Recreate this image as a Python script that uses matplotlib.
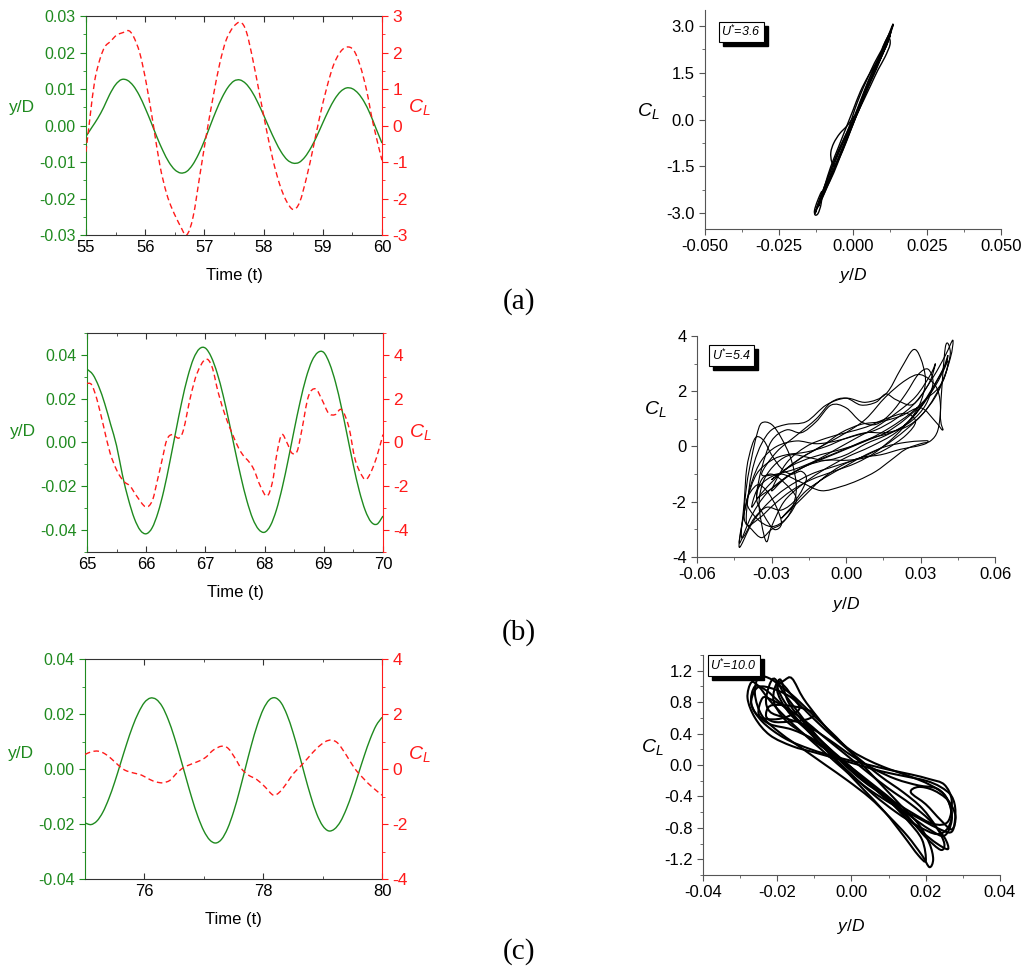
import numpy as np
import matplotlib
matplotlib.use('Agg')
import matplotlib.pyplot as plt
from matplotlib.ticker import MultipleLocator, FormatStrFormatter
from matplotlib.path import Path
from matplotlib.patches import PathPatch, Rectangle
from matplotlib.transforms import IdentityTransform

plt.rcParams['font.family'] = ['Liberation Sans', 'DejaVu Sans']
plt.rcParams['mathtext.fontset'] = 'custom'
plt.rcParams['mathtext.rm'] = 'Liberation Sans'
plt.rcParams['mathtext.it'] = 'Liberation Sans:italic'
plt.rcParams['axes.unicode_minus'] = False

GREEN = '#1f8a1f'
RED = '#ff1a1a'
GREY = '#555555'

# ---------------- time histories ----------------
t_a = np.linspace(55, 60, 51)
yd_a = [-0.0030, -0.0005, 0.0020, 0.0050, 0.0085, 0.0112, 0.0126, 0.0124, 0.0109, 0.0083,
        0.0048, 0.0009, -0.0032, -0.0069, -0.0100, -0.0121, -0.0130, -0.0126, -0.0108, -0.0079,
        -0.0042, 0.0000, 0.0041, 0.0077, 0.0105, 0.0122, 0.0125, 0.0115, 0.0094, 0.0064,
        0.0029, -0.0008, -0.0043, -0.0073, -0.0094, -0.0103, -0.0101, -0.0086, -0.0061, -0.0029,
        0.0007, 0.0042, 0.0072, 0.0093, 0.0103, 0.0101, 0.0088, 0.0065, 0.0032, -0.0008, -0.0048]
t_cl_a = [55.0, 55.07, 55.15, 55.24, 55.32, 55.41, 55.52, 55.63, 55.72, 55.8, 55.91, 56.02, 56.14,
          56.25, 56.36, 56.46, 56.6, 56.7, 56.81, 56.93, 57.04, 57.15, 57.26, 57.37, 57.49, 57.61,
          57.71, 57.82, 57.94, 58.05, 58.16, 58.27, 58.38, 58.5, 58.61, 58.73, 58.84, 58.95, 59.07,
          59.18, 59.29, 59.4, 59.52, 59.63, 59.74, 59.85, 60.0]
cl_a = [-0.72, 0.25, 1.25, 1.84, 2.16, 2.3, 2.48, 2.55, 2.6, 2.45, 1.98, 1.15, 0.0,
        -1.1, -1.85, -2.3, -2.77, -3.0, -2.5, -1.3, -0.2, 0.8, 1.7, 2.35, 2.7, 2.83,
        2.57, 1.8, 0.8, -0.12, -0.95, -1.6, -2.05, -2.3, -2.1, -1.4, -0.6, 0.25, 1.05,
        1.65, 2.0, 2.15, 2.07, 1.65, 0.97, 0.06, -0.95]

t_b = np.linspace(65, 70, 51)
yd_b = [0.0335, 0.0310, 0.0255, 0.0177, 0.0082, -0.0015, -0.0150, -0.0260, -0.0347, -0.0401,
        -0.0417, -0.0390, -0.0320, -0.0217, -0.0088, 0.0050, 0.0184, 0.0298, 0.0383, 0.0428,
        0.0431, 0.0390, 0.0316, 0.0215, 0.0094, -0.0034, -0.0157, -0.0265, -0.0348, -0.0397,
        -0.0410, -0.0379, -0.0308, -0.0204, -0.0078, 0.0057, 0.0185, 0.0294, 0.0372, 0.0411,
        0.0411, 0.0359, 0.0273, 0.0158, 0.0027, -0.0104, -0.0221, -0.0310, -0.0363, -0.0373, -0.0336]
t_cl_b = [65.0, 65.08, 65.17, 65.28, 65.39, 65.51, 65.62, 65.73, 65.84, 65.99, 66.1, 66.18, 66.27,
          66.35, 66.44, 66.55, 66.63, 66.75, 66.86, 67.0, 67.11, 67.22, 67.34, 67.45, 67.56, 67.65,
          67.73, 67.82, 67.93, 68.04, 68.13, 68.21, 68.29, 68.38, 68.46, 68.55, 68.63, 68.74, 68.86,
          68.97, 69.08, 69.19, 69.3, 69.42, 69.53, 69.65, 69.73, 69.84, 69.93, 70.0]
cl_b = [2.7, 2.63, 1.95, 0.74, -0.48, -1.31, -1.77, -2.0, -2.45, -2.94, -2.68, -1.84, -0.78,
        0.13, 0.36, 0.2, 0.58, 2.1, 3.16, 3.8, 3.47, 2.25, 1.19, 0.43, -0.25, -0.63,
        -0.86, -1.24, -2.0, -2.45, -1.84, -0.48, 0.36, -0.02, -0.48, -0.4, 0.58, 2.1, 2.45,
        1.95, 1.34, 1.27, 1.5, 0.74, -0.78, -1.54, -1.66, -1.08, -0.33, 0.36]

t_c = np.linspace(75, 80, 51)
yd_c = [-0.0196, -0.0202, -0.0189, -0.0157, -0.0108, -0.0047, 0.0022, 0.0091, 0.0154, 0.0205,
        0.0242, 0.0258, 0.0253, 0.0227, 0.0180, 0.0118, 0.0045, -0.0032, -0.0107, -0.0173,
        -0.0225, -0.0258, -0.0269, -0.0255, -0.0216, -0.0156, -0.0080, 0.0004, 0.0087, 0.0160,
        0.0217, 0.0251, 0.0259, 0.0241, 0.0197, 0.0134, 0.0058, -0.0023, -0.0099, -0.0163,
        -0.0206, -0.0225, -0.0218, -0.0191, -0.0145, -0.0086, -0.0019, 0.0048, 0.0109, 0.0158, 0.0188]
t_cl_c = [75.0, 75.11, 75.22, 75.33, 75.44, 75.56, 75.67, 75.81, 75.95, 76.09, 76.2, 76.31, 76.43,
          76.54, 76.65, 76.79, 76.93, 77.04, 77.16, 77.3, 77.41, 77.53, 77.63, 77.75, 77.89, 78.03,
          78.17, 78.28, 78.39, 78.51, 78.62, 78.76, 78.9, 79.04, 79.15, 79.26, 79.4, 79.54, 79.69,
          79.83, 80.0]
cl_c = [0.53, 0.63, 0.65, 0.56, 0.38, 0.14, -0.04, -0.14, -0.22, -0.38, -0.47, -0.5, -0.41,
        -0.16, 0.04, 0.18, 0.3, 0.44, 0.69, 0.83, 0.75, 0.38, 0.02, -0.22, -0.38, -0.65,
        -0.95, -0.83, -0.53, -0.16, 0.08, 0.42, 0.75, 0.99, 1.05, 0.93, 0.5, 0.02, -0.35,
        -0.65, -0.95]

# ---------------- phase-plane loops (y/D, C_L) ----------------
ph_a_y = [
    [-0.0128, -0.0115, -0.0095, -0.0075, -0.0050, -0.0025, 0.0000, 0.0025, 0.0050, 0.0075, 0.0100, 0.0120,
     0.0135, 0.0130, 0.0115, 0.0095, 0.0070, 0.0045, 0.0020, -0.0005, -0.0030, -0.0055, -0.0080, -0.0105,
     -0.0120, -0.0128],
    [-0.0125, -0.0110, -0.0090, -0.0070, -0.0048, -0.0030, -0.0012, 0.0005, 0.0025, 0.0048, 0.0072, 0.0095,
     0.0115, 0.0128, 0.0120, 0.0100, 0.0078, 0.0055, 0.0032, 0.0010, -0.0010, -0.0035, -0.0060, -0.0085,
     -0.0108, -0.0125],
    [-0.0110, -0.0090, -0.0065, -0.0040, -0.0015, 0.0010, 0.0035, 0.0060, 0.0085, 0.0108, 0.0125, 0.0120,
     0.0100, 0.0078, 0.0052, 0.0025, 0.0000, -0.0025, -0.0050, -0.0075, -0.0095, -0.0110],
    [-0.0118, -0.0098, -0.0078, -0.0058, -0.0036, -0.0012, 0.0012, 0.0036, 0.0062, 0.0088, 0.0110, 0.0126,
     0.0118, 0.0096, 0.0074, 0.0050, 0.0026, 0.0002, -0.0022, -0.0046, -0.0070, -0.0094, -0.0118],
    [0.0005, -0.0020, -0.0045, -0.0065, -0.0075, -0.0072, -0.0060, -0.0040, -0.0015, 0.0005],
    [-0.0105, -0.0120, -0.0130, -0.0128, -0.0118, -0.0108, -0.0105],
    [0.0100, 0.0120, 0.0133, 0.0136, 0.0130, 0.0122, 0.0110, 0.0100],
]
ph_a_cl = [
    [-3.0, -2.6, -2.1, -1.6, -1.0, -0.5, 0.0, 0.6, 1.2, 1.7, 2.2, 2.7, 3.05, 2.85, 2.45, 2.0, 1.5, 0.9, 0.3,
     -0.2, -0.8, -1.35, -1.9, -2.4, -2.8, -3.0],
    [-2.9, -2.5, -2.0, -1.5, -1.0, -0.6, -0.2, 0.3, 0.8, 1.3, 1.8, 2.2, 2.6, 2.8, 2.6, 2.2, 1.8, 1.3, 0.7,
     0.1, -0.4, -1.0, -1.5, -2.0, -2.5, -2.9],
    [-2.6, -2.2, -1.7, -1.1, -0.5, 0.1, 0.6, 1.1, 1.6, 2.0, 2.4, 2.6, 2.2, 1.8, 1.4, 0.9, 0.3, -0.3, -0.9,
     -1.5, -2.1, -2.6],
    [-2.8, -2.3, -1.8, -1.3, -0.8, -0.3, 0.25, 0.8, 1.35, 1.85, 2.3, 2.7, 2.5, 2.0, 1.5, 1.0, 0.45, -0.1,
     -0.65, -1.2, -1.75, -2.3, -2.8],
    [0.1, -0.2, -0.45, -0.75, -1.05, -1.35, -1.45, -1.0, -0.4, 0.1],
    [-2.3, -2.6, -2.9, -3.05, -3.0, -2.7, -2.3],
    [2.3, 2.7, 2.95, 3.05, 2.9, 2.6, 2.3, 2.3],
]

ph_b_y = [
    [-0.043, -0.041, -0.038, -0.034, -0.028, -0.020, -0.012, -0.004, 0.004, 0.012, 0.020, 0.028, 0.035, 0.040,
     0.043, 0.042, 0.038, 0.032, 0.024, 0.015, 0.006, -0.004, -0.014, -0.024, -0.032, -0.038, -0.043],
    [-0.040, -0.039, -0.037, -0.034, -0.030, -0.024, -0.016, -0.008, 0.000, 0.008, 0.016, 0.022, 0.027, 0.030,
     0.032, 0.030, 0.026, 0.020, 0.012, 0.004, -0.005, -0.014, -0.022, -0.029, -0.035, -0.040],
    [-0.032, -0.034, -0.035, -0.033, -0.028, -0.022, -0.015, -0.008, 0.000, 0.008, 0.016, 0.024, 0.030, 0.036,
     0.040, 0.041, 0.039, 0.034, 0.028, 0.020, 0.010, 0.000, -0.010, -0.018, -0.025, -0.030, -0.032],
    [-0.038, -0.036, -0.032, -0.026, -0.018, -0.010, -0.002, 0.005, 0.012, 0.018, 0.024, 0.030, 0.034, 0.037,
     0.038, 0.036, 0.030, 0.024, 0.016, 0.008, 0.000, -0.008, -0.016, -0.024, -0.030, -0.035, -0.038],
    [-0.036, -0.034, -0.030, -0.024, -0.018, -0.012, -0.006, 0.000, 0.006, 0.012, 0.018, 0.024, 0.029, 0.033,
     0.035, 0.032, 0.026, 0.018, 0.010, 0.002, -0.006, -0.014, -0.022, -0.028, -0.033, -0.036],
    [-0.026, -0.018, -0.010, -0.002, 0.006, 0.014, 0.022, 0.028, 0.032, 0.033, 0.030, 0.024, 0.016, 0.008,
     0.000, -0.008, -0.016, -0.022, -0.026],
    [-0.030, -0.022, -0.014, -0.006, 0.002, 0.010, 0.018, 0.026, 0.032, 0.037, 0.040, 0.042, 0.040, 0.038,
     0.039, 0.036, 0.030, 0.022, 0.014, 0.006, -0.002, -0.010, -0.018, -0.024, -0.030],
    [-0.041, -0.040, -0.038, -0.036, -0.034, -0.030, -0.026, -0.022, -0.020, -0.022, -0.026, -0.030, -0.034,
     -0.038, -0.041],
    [-0.042, -0.041, -0.040, -0.038, -0.036, -0.033, -0.030, -0.026, -0.022, -0.018, -0.016, -0.020, -0.026,
     -0.032, -0.037, -0.042],
    [-0.043, -0.040, -0.036, -0.030, -0.024, -0.016, -0.008, 0.000, 0.008, 0.016, 0.024, 0.030, 0.036, 0.040,
     0.041, 0.038, 0.032, 0.024, 0.016, 0.008, 0.000, -0.008, -0.016, -0.024, -0.032, -0.038, -0.043],
    [-0.034, -0.028, -0.020, -0.012, -0.006, 0.000, 0.006, 0.012, 0.016, 0.020, 0.026, 0.030, 0.034, 0.036,
     0.034, 0.028, 0.020, 0.012, 0.004, -0.004, -0.012, -0.020, -0.028, -0.034],
    [-0.040, -0.036, -0.032, -0.028, -0.026, -0.029, -0.033, -0.036, -0.034, -0.030, -0.025, -0.020, -0.024,
     -0.030, -0.036, -0.040],
    [-0.030, -0.024, -0.016, -0.008, 0.000, 0.008, 0.016, 0.024, 0.028, 0.024, 0.016, 0.008, 0.000, -0.008,
     -0.016, -0.024, -0.030],
]
ph_b_cl = [
    [-3.65, -2.4, -1.3, -0.5, 0.0, 0.2, 0.1, 0.2, 0.4, 0.6, 1.0, 1.6, 2.5, 3.3, 3.85, 3.2, 2.2, 1.3, 0.6,
     0.0, -0.4, -0.7, -1.0, -1.5, -2.1, -2.8, -3.65],
    [-2.8, -1.5, -0.6, 0.1, 0.6, 0.8, 0.9, 1.5, 1.75, 1.6, 1.9, 2.8, 3.5, 3.2, 2.4, 1.6, 1.0, 0.4, -0.2,
     -0.6, -0.9, -1.2, -1.6, -2.1, -2.6, -2.8],
    [-3.45, -2.8, -2.0, -1.2, -0.6, -0.3, -0.4, -0.5, -0.3, 0.1, 0.4, 0.8, 1.4, 2.2, 2.9, 3.3, 2.8, 2.0,
     1.2, 0.5, 0.0, -0.4, -0.9, -1.4, -2.0, -2.9, -3.45],
    [-2.2, -1.6, -1.2, -1.0, -1.3, -1.6, -1.45, -1.22, -0.9, -0.5, -0.1, 0.1, 0.2, 0.6, 1.5, 2.2, 2.6, 2.4,
     1.8, 1.0, 0.5, 0.1, -0.3, -0.8, -1.3, -1.8, -2.2],
    [-1.8, -0.8, 0.2, 0.6, 0.5, 0.9, 1.5, 1.4, 0.9, 0.8, 1.2, 1.9, 2.6, 2.8, 2.3, 1.5, 0.9, 0.5, 0.3, 0.0,
     -0.3, -0.6, -1.0, -1.4, -1.7, -1.8],
    [-2.6, -1.9, -1.2, -0.7, -0.4, -0.3, -0.1, 0.0, 0.1, 0.2, 0.2, 0.15, 0.0, -0.3, -0.7, -1.1, -1.6, -2.2,
     -2.6],
    [-1.2, -0.7, -0.4, -0.2, 0.0, 0.3, 0.7, 1.2, 1.7, 2.1, 2.6, 3.4, 3.6, 1.2, 0.6, 0.9, 1.4, 1.1, 0.9,
     0.8, 0.5, 0.0, -0.4, -0.8, -1.2],
    [-2.6, -1.4, -0.4, 0.4, 0.85, 0.8, 0.3, -0.5, -1.5, -2.3, -2.8, -3.0, -3.3, -3.0, -2.6],
    [-3.3, -2.0, -0.8, 0.0, 0.35, 0.2, -0.3, -0.8, -1.0, -0.9, -1.2, -1.9, -2.3, -2.2, -2.6, -3.3],
    [-3.5, -2.0, -1.0, -0.5, -0.3, -0.2, 0.0, 0.3, 0.5, 0.5, 0.7, 1.1, 1.8, 2.6, 3.1, 2.6, 1.7, 1.0, 0.5,
     0.2, -0.1, -0.4, -0.7, -1.1, -1.7, -2.5, -3.5],
    [-1.0, -0.2, 0.4, 1.0, 1.6, 1.75, 1.5, 1.6, 1.9, 1.7, 1.5, 1.8, 2.4, 3.0, 2.6, 1.8, 1.2, 0.7, 0.3,
     -0.1, -0.5, -0.8, -1.0, -1.0],
    [-2.0, -1.4, -1.6, -2.2, -2.8, -3.0, -2.5, -1.9, -1.2, -1.0, -1.3, -1.9, -2.6, -2.9, -2.6, -2.0],
    [-1.6, -1.1, -0.7, -0.5, -0.5, -0.4, -0.1, 0.4, 0.9, 1.2, 1.0, 0.7, 0.5, 0.3, 0.0, -0.6, -1.6],
]

ph_c_y = [
    [-0.027, -0.028, -0.026, -0.022, -0.016, -0.010, -0.004, 0.002, 0.008, 0.014, 0.020, 0.024, 0.027, 0.028,
     0.027, 0.023, 0.017, 0.011, 0.005, -0.001, -0.007, -0.013, -0.018, -0.022, -0.025, -0.027],
    [-0.025, -0.026, -0.024, -0.019, -0.013, -0.007, -0.001, 0.005, 0.010, 0.015, 0.019, 0.021, 0.022, 0.021,
     0.018, 0.013, 0.008, 0.002, -0.004, -0.010, -0.015, -0.019, -0.022, -0.025],
    [-0.016, -0.013, -0.009, -0.005, 0.000, 0.005, 0.010, 0.016, 0.021, 0.025, 0.027, 0.026, 0.023, 0.018,
     0.012, 0.006, 0.000, -0.006, -0.011, -0.016, -0.019, -0.020, -0.018, -0.016],
    [-0.024, -0.025, -0.022, -0.016, -0.010, -0.004, 0.002, 0.008, 0.014, 0.019, 0.023, 0.026, 0.025, 0.021,
     0.016, 0.010, 0.004, -0.002, -0.008, -0.013, -0.018, -0.022, -0.024],
    [-0.021, -0.023, -0.022, -0.018, -0.012, -0.006, 0.000, 0.006, 0.012, 0.018, 0.023, 0.026, 0.027, 0.025,
     0.021, 0.015, 0.009, 0.003, -0.003, -0.009, -0.014, -0.018, -0.021],
    [-0.019, -0.017, -0.013, -0.008, -0.002, 0.004, 0.010, 0.015, 0.019, 0.020, 0.018, 0.014, 0.009, 0.003,
     -0.003, -0.009, -0.014, -0.018, -0.020, -0.019],
    [-0.026, -0.027, -0.025, -0.021, -0.017, -0.014, -0.016, -0.020, -0.024, -0.026],
    [-0.022, -0.023, -0.021, -0.017, -0.012, -0.010, -0.013, -0.018, -0.022],
    [0.018, 0.022, 0.026, 0.028, 0.027, 0.024, 0.020, 0.016, 0.018],
    [-0.026, -0.027, -0.024, -0.018, -0.011, -0.004, 0.003, 0.010, 0.016, 0.021, 0.025, 0.027, 0.026, 0.022,
     0.016, 0.010, 0.004, -0.002, -0.008, -0.014, -0.019, -0.023, -0.026],
    [-0.020, -0.021, -0.018, -0.013, -0.007, -0.001, 0.005, 0.011, 0.016, 0.020, 0.024, 0.025, 0.023, 0.019,
     0.014, 0.008, 0.002, -0.004, -0.010, -0.015, -0.018, -0.020],
]
ph_c_cl = [
    [1.05, 0.85, 0.6, 0.38, 0.24, 0.16, 0.08, 0.0, -0.08, -0.14, -0.2, -0.28, -0.4, -0.6, -0.85, -0.8,
     -0.65, -0.5, -0.32, -0.1, 0.15, 0.4, 0.62, 0.82, 1.0, 1.05],
    [1.12, 0.9, 0.62, 0.4, 0.2, 0.0, -0.2, -0.42, -0.65, -0.9, -1.15, -1.3, -1.2, -1.0, -0.75, -0.5, -0.25,
     0.05, 0.35, 0.62, 0.85, 1.0, 1.1, 1.12],
    [1.1, 0.85, 0.6, 0.38, 0.18, 0.05, -0.05, -0.15, -0.25, -0.38, -0.6, -0.8, -0.88, -0.78, -0.6, -0.38,
     -0.12, 0.15, 0.4, 0.62, 0.82, 0.98, 1.08, 1.1],
    [0.85, 0.65, 0.52, 0.45, 0.32, 0.12, -0.12, -0.38, -0.62, -0.85, -1.0, -1.07, -0.92, -0.7, -0.5, -0.3,
     -0.08, 0.15, 0.38, 0.58, 0.74, 0.84, 0.85],
    [1.1, 0.85, 0.68, 0.6, 0.5, 0.32, 0.12, -0.05, -0.18, -0.26, -0.3, -0.45, -0.7, -0.9, -0.82, -0.62,
     -0.4, -0.2, 0.05, 0.35, 0.65, 0.9, 1.1],
    [1.08, 0.8, 0.55, 0.3, 0.05, -0.2, -0.45, -0.7, -0.95, -1.22, -1.15, -0.9, -0.6, -0.3, 0.0, 0.3, 0.55,
     0.8, 1.0, 1.08],
    [0.95, 0.78, 0.62, 0.58, 0.62, 0.72, 0.85, 0.95, 1.0, 0.95],
    [0.75, 0.62, 0.55, 0.55, 0.58, 0.65, 0.72, 0.76, 0.75],
    [-0.28, -0.32, -0.45, -0.65, -0.82, -0.7, -0.5, -0.35, -0.28],
    [1.0, 0.78, 0.55, 0.34, 0.2, 0.1, 0.02, -0.06, -0.12, -0.18, -0.25, -0.45, -0.72, -0.75, -0.6, -0.42,
     -0.22, 0.02, 0.3, 0.55, 0.78, 0.95, 1.0],
    [1.05, 0.82, 0.58, 0.4, 0.2, 0.0, -0.22, -0.45, -0.7, -0.92, -1.08, -1.0, -0.8, -0.55, -0.35, -0.15,
     0.08, 0.32, 0.58, 0.82, 1.0, 1.05],
]

fig = plt.figure(figsize=(10.27, 9.68), dpi=100)


def smooth_line(ax, x, y, **kw):
    # draw a smooth curve through the read points (Catmull-Rom as Bezier segments)
    p = np.column_stack([x, y]).astype(float)
    n = len(p)
    closed = n > 3 and np.allclose(p[0], p[-1])
    verts, codes = [p[0]], [Path.MOVETO]
    for i in range(n - 1):
        if i > 0:
            p0 = p[i - 1]
        else:
            p0 = p[-2] if closed else p[0]
        if i + 2 < n:
            p3 = p[i + 2]
        else:
            p3 = p[1] if closed else p[-1]
        c1 = p[i] + (p[i + 1] - p0) / 6
        c2 = p[i + 1] - (p3 - p[i]) / 6
        verts += [c1, c2, p[i + 1]]
        codes += [Path.CURVE4] * 3
    ax.add_patch(PathPatch(Path(verts, codes), fc='none', **kw))


def time_panel(rect, t, yd, t_cl, cl, xlim, ylim, cllim, xmaj, xmin, ymaj, clmaj, lab_y):
    ax = fig.add_axes(rect)
    smooth_line(ax, t, yd, ec=GREEN, lw=1.0)
    ax.set_xlim(xlim)
    ax.set_ylim(ylim)
    ax.xaxis.set_major_locator(MultipleLocator(xmaj))
    ax.xaxis.set_minor_locator(MultipleLocator(xmin))
    ax.yaxis.set_major_locator(MultipleLocator(ymaj))
    ax.yaxis.set_minor_locator(MultipleLocator(ymaj / 2))
    ax.yaxis.set_major_formatter(FormatStrFormatter('%.2f'))
    ax.tick_params(axis='y', which='both', direction='out', colors=GREEN, labelsize=11.5)
    ax.tick_params(axis='x', which='both', direction='in', top=True, labelsize=12, colors='#333333',
                   labelcolor='black')
    ax.tick_params(which='major', length=4)
    ax.tick_params(which='minor', length=2)
    ax.spines['left'].set_color(GREEN)
    ax.spines['right'].set_visible(False)
    for s in ('top', 'bottom'):
        ax.spines[s].set_color('#333333')
    ax.set_xlabel('Time (t)', fontsize=12)
    ax.xaxis.set_label_coords(0.5, -0.15)
    ax.set_ylabel('y/D', color=GREEN, fontsize=12.5, rotation=0, ha='center', va='center')
    ax.yaxis.set_label_coords(-0.215, lab_y)

    ax2 = ax.twinx()
    smooth_line(ax2, t_cl, cl, ec=RED, lw=1.0, ls=(0, (4, 2.5)))
    ax2.set_ylim(cllim)
    ax2.yaxis.set_major_locator(MultipleLocator(clmaj))
    ax2.yaxis.set_minor_locator(MultipleLocator(clmaj / 2))
    ax2.yaxis.set_major_formatter(FormatStrFormatter('%d'))
    ax2.tick_params(axis='y', which='both', direction='out', colors=RED, labelsize=12.5)
    ax2.tick_params(which='major', length=4)
    ax2.tick_params(which='minor', length=2)
    ax2.spines['right'].set_color(RED)
    for s in ('left', 'top', 'bottom'):
        ax2.spines[s].set_visible(False)
    ax2.set_ylabel('$C_L$', color=RED, fontsize=14, rotation=0, ha='center', va='center')
    ax2.yaxis.set_label_coords(1.125, lab_y)
    return ax


boxes = []


def phase_panel(rect, ys, cls, xlim, ylim, xmaj, ymaj, xfmt, yfmt, lw, label, box_xy, ylab_xy, xlab_y):
    ax = fig.add_axes(rect)
    for yy, cc in zip(ys, cls):
        smooth_line(ax, yy, cc, ec='black', lw=lw)
    ax.set_xlim(xlim)
    ax.set_ylim(ylim)
    ax.xaxis.set_major_locator(MultipleLocator(xmaj))
    ax.xaxis.set_minor_locator(MultipleLocator(xmaj / 2))
    ax.yaxis.set_major_locator(MultipleLocator(ymaj))
    ax.yaxis.set_minor_locator(MultipleLocator(ymaj / 2))
    ax.xaxis.set_major_formatter(FormatStrFormatter(xfmt))
    ax.yaxis.set_major_formatter(FormatStrFormatter(yfmt))
    ax.tick_params(which='both', direction='out', colors=GREY, labelcolor='black', labelsize=12)
    ax.tick_params(which='major', length=4)
    ax.tick_params(which='minor', length=2)
    for s in ('top', 'right'):
        ax.spines[s].set_visible(False)
    for s in ('left', 'bottom'):
        ax.spines[s].set_color(GREY)
    ax.set_xlabel('$y/D$', fontsize=12.5)
    ax.xaxis.set_label_coords(0.5, xlab_y)
    ax.set_ylabel('$C_L$', fontsize=14, rotation=0, ha='center', va='center')
    ax.yaxis.set_label_coords(*ylab_xy)
    txt = ax.text(box_xy[0], box_xy[1], label, transform=ax.transAxes, fontsize=9, style='italic',
                  ha='left', va='top', zorder=5,
                  bbox=dict(boxstyle='square,pad=0.22', fc='white', ec='black', lw=0.8))
    boxes.append((ax, txt))
    return ax


# (a)
time_panel([0.0837, 0.7572, 0.2882, 0.2262], t_a, yd_a, t_cl_a, cl_a,
           (55, 60), (-0.03, 0.03), (-3, 3), 1, 0.5, 0.01, 1, 0.584)
phase_panel([0.6865, 0.7634, 0.2882, 0.2262], ph_a_y, ph_a_cl, (-0.05, 0.05), (-3.5, 3.5),
            0.025, 1.5, '%.3f', '%.1f', 1.0, r'U$^{*}$=3.6', (0.055, 0.935), (-0.19, 0.54), -0.17)

# (b)
time_panel([0.0847, 0.4298, 0.2882, 0.2262], t_b, yd_b, t_cl_b, cl_b,
           (65, 70), (-0.05, 0.05), (-5, 5), 1, 0.5, 0.02, 2, 0.55)
phase_panel([0.6787, 0.4246, 0.2902, 0.2283], ph_b_y, ph_b_cl, (-0.06, 0.06), (-4, 4),
            0.03, 2, '%.2f', '%d', 0.8, r'U$^{*}$=5.4', (0.05, 0.945), (-0.14, 0.67), -0.17)

# (c)
time_panel([0.0828, 0.0919, 0.2892, 0.2273], t_c, yd_c, t_cl_c, cl_c,
           (75, 80), (-0.04, 0.04), (-4, 4), 2, 1, 0.02, 2, 0.57)
phase_panel([0.6845, 0.0961, 0.2892, 0.2273], ph_c_y, ph_c_cl, (-0.04, 0.04), (-1.4, 1.4),
            0.02, 0.4, '%.2f', '%.1f', 1.5, r'U$^{*}$=10.0', (0.025, 0.985), (-0.17, 0.58), -0.19)

for lab, yy in (('(a)', 0.688), ('(b)', 0.347), ('(c)', 0.017)):
    fig.text(0.505, yy, lab, ha='center', va='center', fontsize=21, family='Liberation Serif')

# drop shadow behind the U* boxes
fig.canvas.draw()
for ax, txt in boxes:
    bb = txt.get_bbox_patch().get_window_extent()
    ax.add_patch(Rectangle((bb.x0 + 4, bb.y0 - 4), bb.width, bb.height, transform=IdentityTransform(),
                           fc='black', ec='black', zorder=4, clip_on=False))

fig.savefig('out.png', dpi=100)
